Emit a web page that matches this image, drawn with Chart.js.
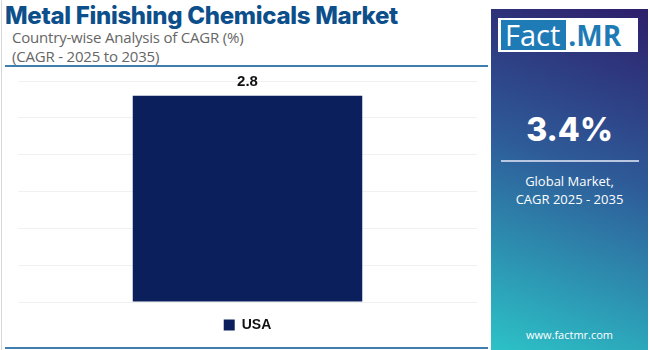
<!DOCTYPE html>
<html lang="en">
<head>
    <meta charset="UTF-8">
    <title>Metal Finishing Chemicals Market</title>
    <script src="https://cdn.jsdelivr.net/npm/chart.js"></script>
    <style>
        body {
            margin: 0;
            width: 650px;
            height: 350px;
            background: #fff;
            font-family: 'Open Sans', sans-serif;
            position: relative;
            overflow: hidden;
        }
        .left-border {
            position: absolute; left: 1px; top: 0; width: 1px; height: 350px; background: #d8d8d8;
        }
        h1 {
            position: absolute; left: 5px; top: 1px; margin: 0;
            font-family: 'Inter', sans-serif; font-weight: 800; font-size: 24px;
            color: #0d4f8b; letter-spacing: -0.3px;
        }
        .sub {
            position: absolute; left: 12px; font-size: 15px; color: #666; letter-spacing: -0.2px;
        }
        .rule {
            position: absolute; left: 5px; height: 2px; width: 483px; background: #3f7fb0;
        }
        .chart-box {
            position: absolute; left: 14px; top: 72px; width: 467px; height: 274px;
        }
        .panel {
            position: absolute; left: 491px; top: 9px; width: 157px; height: 341px;
            background: linear-gradient(200deg, #2e1f6b 0%, #2e5a98 45%, #2cc2c7 100%);
            color: #fff; text-align: center;
        }
        .logo {
            position: absolute; left: 7px; top: 9px; width: 140px; height: 34px;
            background: #fff; display: flex; align-items: center;
        }
        .logo .f {
            background: #1f7bb6; color: #fff; font-size: 29px; margin-left: 3px;
            height: 30px; line-height: 30px; padding: 0 6px 0 4px;
        }
        .logo .m {
            color: #1f7bb6; font-size: 28px; font-weight: 700; margin-left: 2px; line-height: 30px;
        }
        .big {
            position: absolute; top: 101px; width: 100%; font-family: 'Inter', sans-serif;
            font-size: 32px; font-weight: 800;
        }
        .hr {
            position: absolute; left: 10px; top: 151px; width: 138px; height: 2px; background: #b9c7e0;
        }
        .desc {
            position: absolute; top: 163px; width: 100%; font-size: 13px; line-height: 18px;
        }
        .url {
            position: absolute; top: 318px; width: 100%; font-size: 11px;
        }
    </style>
</head>
<body>
    <div class="left-border"></div>
    <h1>Metal Finishing Chemicals Market</h1>
    <div class="sub" style="top:27px">Country-wise Analysis of CAGR (%)</div>
    <div class="sub" style="top:46px">(CAGR - 2025 to 2035)</div>
    <div class="rule" style="top:65px"></div>
    <div class="rule" style="top:347px"></div>

    <div class="chart-box"><canvas id="cagrChart"></canvas></div>

    <div class="panel">
        <div class="logo"><span class="f">Fact</span><span class="m">.MR</span></div>
        <div class="big">3.4%</div>
        <div class="hr"></div>
        <div class="desc">Global Market,<br>CAGR 2025 - 2035</div>
        <div class="url">www.factmr.com</div>
    </div>

    <script>
        const countries = ['USA'];
        const cagrValues = [2.8];
        const yTicks = [0, 0.5, 1, 1.5, 2, 2.5, 3];

        // label above each bar
        const valueLabels = {
            id: 'valueLabels',
            afterDatasetsDraw(chart) {
                const ctx = chart.ctx;
                chart.getDatasetMeta(0).data.forEach((bar, i) => {
                    ctx.save();
                    ctx.font = 'bold 15px "Liberation Sans", Arial, sans-serif';
                    ctx.fillStyle = '#111';
                    ctx.textAlign = 'center';
                    ctx.textBaseline = 'bottom';
                    ctx.fillText(cagrValues[i].toFixed(1), bar.x, bar.y - 6);
                    ctx.restore();
                });
            }
        };

        new Chart(document.getElementById('cagrChart'), {
            type: 'bar',
            data: {
                labels: countries,
                datasets: [{
                    label: countries[0],
                    data: cagrValues,
                    backgroundColor: '#0a1f5c',
                    barPercentage: 0.5,
                    categoryPercentage: 1
                }]
            },
            options: {
                responsive: true,
                maintainAspectRatio: false,
                animation: false,
                layout: { padding: { top: 9, left: 4, right: 4, bottom: 4 } },
                scales: {
                    x: { display: false },
                    y: {
                        min: yTicks[0],
                        max: yTicks[yTicks.length - 1],
                        ticks: { display: false, stepSize: 0.5 },
                        grid: { color: '#f1f1f1', drawTicks: false },
                        border: { display: false }
                    }
                },
                plugins: {
                    legend: {
                        position: 'bottom',
                        labels: {
                            boxWidth: 11, boxHeight: 11, padding: 16,
                            color: '#111',
                            font: { family: '"Liberation Sans", Arial, sans-serif', size: 14, weight: 'bold' }
                        }
                    },
                    tooltip: { enabled: false }
                }
            },
            plugins: [valueLabels]
        });
    </script>
</body>
</html>
